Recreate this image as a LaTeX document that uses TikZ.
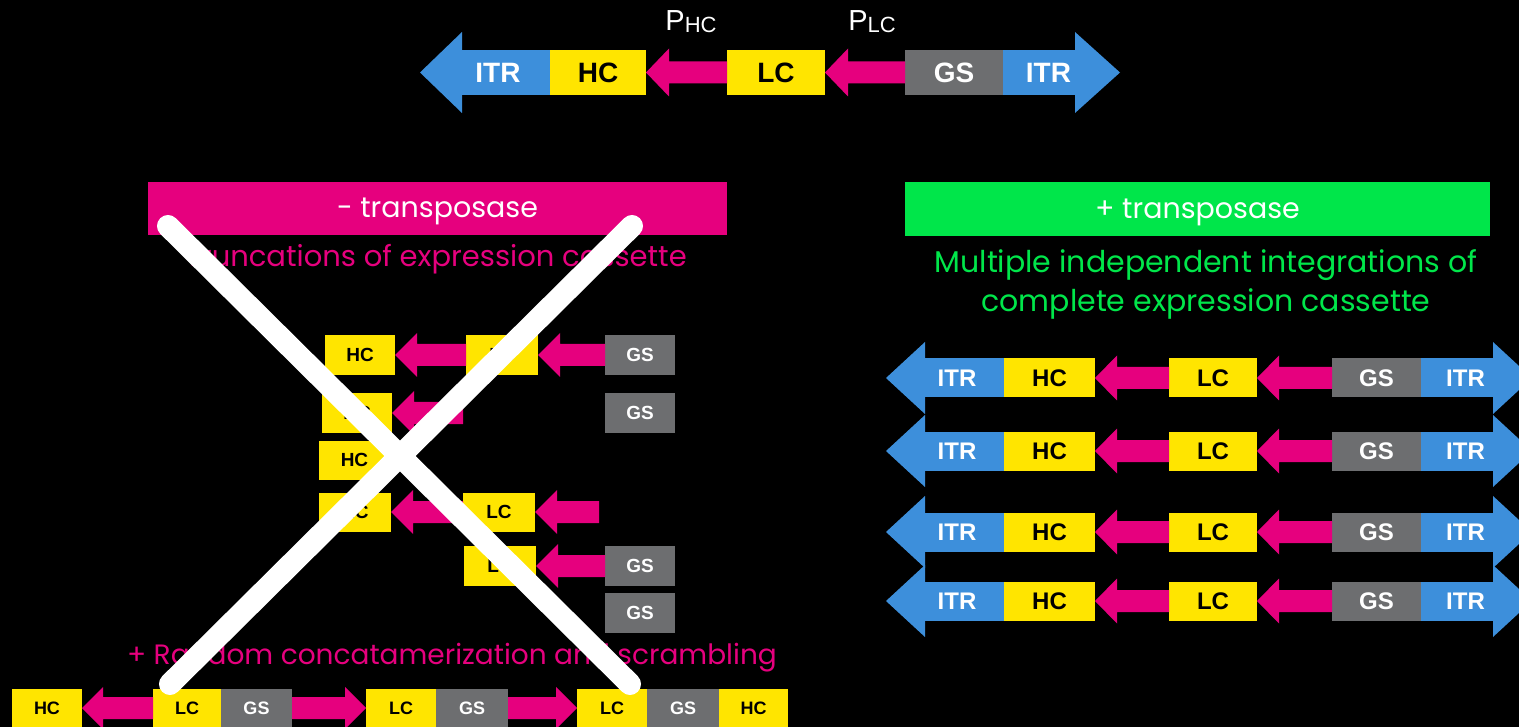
\documentclass[tikz,border=0pt]{standalone}
\usepackage{fontspec}
\setmainfont{Poppins}
\newfontfamily\lab{Liberation Sans}
\usetikzlibrary{calc}
\definecolor{itrc}{HTML}{3D8FDB}
\definecolor{yel}{HTML}{FFE500}
\definecolor{pk}{HTML}{E6007E}
\definecolor{gry}{HTML}{6D6E70}
\definecolor{grn}{HTML}{00E64A}
% pink arrow: #1 tail, #2 tip, #3 signed head length, #4 body half, #5 head half
\newcommand{\parr}[5]{\fill[pk] ($(#1)+(0,#4)$) -- ($(#2)+(#3,#4)$) -- ($(#2)+(#3,#5)$) -- (#2) -- ($(#2)+(#3,-#5)$) -- ($(#2)+(#3,-#4)$) -- ($(#1)+(0,-#4)$) -- cycle;}
% ITR heads: #1 node, #2 tip offset, #3 base offset, #4 head half
\newcommand{\headL}[4]{\fill[itrc] ($(#1.west)+(-#2,0)$) -- ($(#1.west)+(#3,#4)$) -- ($(#1.west)+(#3,-#4)$) -- cycle;}
\newcommand{\headR}[4]{\fill[itrc] ($(#1.east)+(#2,0)$) -- ($(#1.east)+(-#3,#4)$) -- ($(#1.east)+(-#3,-#4)$) -- cycle;}
\tikzset{
 bx/.style={rectangle, inner sep=0pt, outer sep=0pt, font=\lab\bfseries\fontsize{#1}{#1}\selectfont},
 yb/.style={bx=#1, fill=yel, text=black},
 gb/.style={bx=#1, fill=gry, text=white},
 ib/.style={bx=#1, fill=itrc, text=white},
 banner/.style={rectangle, inner sep=0pt, text=white, text height=19pt, text depth=0pt, font=\fontsize{28.5}{28.5}\selectfont},
 ptxt/.style={text=pk, inner sep=0pt},
 gtxt/.style={text=grn, font=\fontsize{30}{39}\selectfont, inner sep=0pt, align=center},
}
\begin{document}
\begin{tikzpicture}[x=1pt,y=-1pt]
\useasboundingbox (0,0) rectangle (1519,727);
\fill[black] (0,0) rectangle (1519,727);
\clip (0,0) rectangle (1519,727);

% ---------- top cassette ----------
\node[ib=28, minimum width=104, minimum height=45] (iL0) at (498,72.5) {ITR};
\node[yb=28, minimum width=96, minimum height=45] (hc0) at (598,72.5) {HC};
\node[yb=28, minimum width=98, minimum height=45] (lc0) at (776,72.5) {LC};
\node[gb=28, minimum width=98, minimum height=45] (gs0) at (954,72.5) {GS};
\node[ib=28, minimum width=91, minimum height=45] (iR0) at (1048.5,72.5) {ITR};
\headL{iL0}{26}{16}{40.5}
\headR{iR0}{26}{19}{40.5}
\parr{lc0.west}{hc0.east}{23}{11}{24}
\parr{gs0.west}{lc0.east}{23}{11}{24}
\node[text=white, font=\lab, inner sep=0pt] (phc) at (691,22) {{\fontsize{29}{29}\selectfont P}{\fontsize{22}{22}\selectfont\raisebox{-2pt}{HC}}};
\node[text=white, font=\lab, inner sep=0pt] (plc) at (872,22) {{\fontsize{29}{29}\selectfont P}{\fontsize{22}{22}\selectfont\raisebox{-2pt}{LC}}};

% ---------- banners ----------
\node[banner, fill=pk, minimum width=579, minimum height=53] (bm) at (437.5,208.5) {- transposase};
\node[banner, fill=grn, minimum width=585, minimum height=54] (bp) at (1197.5,209) {+ transposase};
\node[ptxt, font=\fontsize{29}{29}\selectfont] (trunc) at (436,259) {Truncations of expression cassette};
\node[gtxt] (multi) at (1206,284) {Multiple independent integrations of\\complete expression cassette};
\node[ptxt, font=\fontsize{28}{28}\selectfont] (rand) at (452,658) {+ Random concatamerization and scrambling};

% ---------- right rows ----------
\foreach \k/\y in {1/378,2/451,3/532,4/601}{
 \node[ib=24, minimum width=94, minimum height=39] (iL\k) at (957,\y) {ITR};
 \node[yb=24, minimum width=91, minimum height=39] (hc\k) at (1049.5,\y) {HC};
 \node[yb=24, minimum width=88, minimum height=39] (lc\k) at (1213,\y) {LC};
 \node[gb=24, minimum width=89, minimum height=39] (gs\k) at (1376.5,\y) {GS};
 \node[ib=24, minimum width=89, minimum height=39] (iR\k) at (1465.5,\y) {ITR};
 \headL{iL\k}{24}{15}{36}
 \headR{iR\k}{22}{17}{36}
 \parr{lc\k.west}{hc\k.east}{22}{11}{22.5}
 \parr{gs\k.west}{lc\k.east}{22}{11}{22.5}
}

% ---------- left truncations ----------
\node[yb=19, minimum width=70, minimum height=40] (lh1) at (360,355) {HC};
\node[yb=19, minimum width=72, minimum height=40] (ll1) at (502,355) {LC};
\node[gb=19, minimum width=70, minimum height=40] (lg1) at (640,355) {GS};
\parr{ll1.west}{lh1.east}{22}{11}{22}
\parr{lg1.west}{ll1.east}{22}{11}{22}

\node[yb=19, minimum width=70, minimum height=39] (lh2) at (357,413) {HC};
\coordinate (t2) at (463,413);
\parr{t2}{lh2.east}{22}{11}{22}
\node[gb=19, minimum width=70, minimum height=39] (lg2) at (640,413) {GS};

\node[yb=19, minimum width=71, minimum height=39] (lh3) at (354.5,460) {HC};

\node[yb=19, minimum width=72, minimum height=39] (lh4) at (355,512) {HC};
\node[yb=19, minimum width=72, minimum height=39] (ll4) at (499,512) {LC};
\coordinate (t4) at (599,512);
\parr{ll4.west}{lh4.east}{22}{11}{22}
\parr{t4}{ll4.east}{22}{11}{22}

\node[yb=19, minimum width=72, minimum height=40] (ll5) at (500,566) {LC};
\node[gb=19, minimum width=70, minimum height=40] (lg5) at (640,566) {GS};
\parr{lg5.west}{ll5.east}{22}{11}{22}

\node[gb=19, minimum width=70, minimum height=40] (lg6) at (640,613) {GS};

% ---------- bottom concatemer ----------
\node[yb=18, minimum width=70, minimum height=38] (bh1) at (47,708) {HC};
\node[yb=18, minimum width=68, minimum height=38] (bl1) at (187,708) {LC};
\node[gb=18, minimum width=71, minimum height=38] (bg1) at (256.5,708) {GS};
\node[yb=18, minimum width=70, minimum height=38] (bl2) at (401,708) {LC};
\node[gb=18, minimum width=72, minimum height=38] (bg2) at (472,708) {GS};
\node[yb=18, minimum width=70, minimum height=38] (bl3) at (612,708) {LC};
\node[gb=18, minimum width=72, minimum height=38] (bg3) at (683,708) {GS};
\node[yb=18, minimum width=69, minimum height=38] (bh2) at (753.5,708) {HC};
\parr{bl1.west}{bh1.east}{21}{11}{21}
\parr{bg1.east}{bl2.west}{-21}{11}{21}
\parr{bg2.east}{bl3.west}{-21}{11}{21}

% ---------- white cross ----------
\coordinate (xa) at (168,226);
\coordinate (xb) at (630,684);
\coordinate (xc) at (632,226);
\coordinate (xd) at (170,684);
\draw[white, line width=22pt, line cap=round] (xa) -- (xb) (xc) -- (xd);
\end{tikzpicture}
\end{document}
